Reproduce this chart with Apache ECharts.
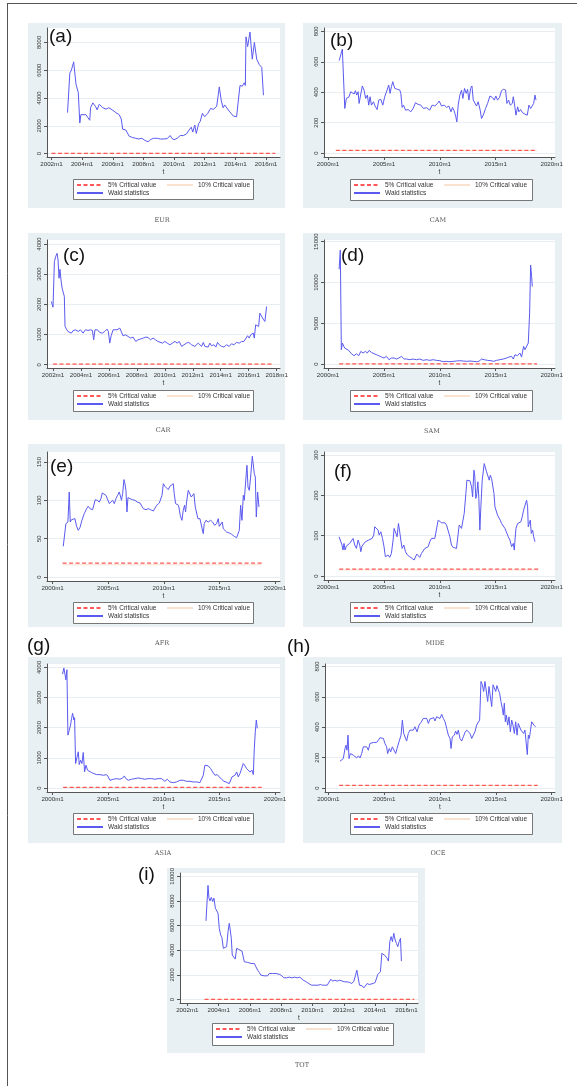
<!DOCTYPE html>
<html><head><meta charset="utf-8">
<script src="https://cdn.jsdelivr.net/npm/echarts@6/dist/echarts.min.js"></script>
<style>html,body{margin:0;padding:0;background:#fff}#c{width:577px;height:1086px}</style>
</head><body><div id="c"></div>
<script>
// ---------------- DATA ----------------
const panelLetters = ['(a)','(b)','(c)','(d)','(e)','(f)','(g)','(h)','(i)'];
const regionNames = ['EUR','CAM','CAR','SAM','AFR','MIDE','ASIA','OCE','TOT'];
const seriesNames = ['5% Critical value','10% Critical value','Wald statistics'];
const xTicks0216 = [2002,2004,2006,2008,2010,2012,2014,2016];
const xTicks0218 = [2002,2004,2006,2008,2010,2012,2014,2016,2018];
const xTicks0020 = [2000,2005,2010,2015,2020];
const yTicksEUR = [0,2000,4000,6000,8000];
const yTicksCAM = [0,200,400,600,800];
const yTicksCAR = [0,1000,2000,3000,4000];
const yTicksSAM = [0,5000,10000,15000];
const yTicksAFR = [0,50,100,150];
const yTicksMIDE = [0,100,200,300];
const yTicksASIA = [0,1000,2000,3000,4000];
const yTicksOCE = [0,200,400,600,800];
const yTicksTOT = [0,2000,4000,6000,8000,10000];
const crit5 = [18,18,18,18,18,17,18,18,18];
const crit10 = [16,16,16,16,16,15,16,16,16];
const critSpan = [[2002.0,2016.6],[2000.7,2018.7],[2002.0,2017.7],[2001.0,2018.7],[2000.9,2018.8],[2001.0,2018.8],[2000.95,2018.8],[2000.96,2018.75],[2003.1,2016.5]];

const EUR = [[2003.05,2950],[2003.2,5800],[2003.3,6000],[2003.45,6600],[2003.6,5000],[2003.75,4400],[2003.85,2200],[2003.92,2800],[2004.25,2800],[2004.37,2600],[2004.5,2400],[2004.55,3300],[2004.7,3650],[2004.87,3400],[2004.98,3150],[2005.12,3550],[2005.35,3300],[2005.57,3200],[2005.74,3300],[2005.96,3150],[2006.2,2950],[2006.42,2800],[2006.55,2500],[2006.65,1750],[2006.85,1700],[2007.07,1250],[2007.3,1150],[2007.5,1100],[2007.7,1050],[2007.9,1100],[2008.1,950],[2008.3,850],[2008.45,1000],[2008.65,1100],[2008.9,1100],[2009.1,1050],[2009.35,1050],[2009.55,1080],[2009.75,1300],[2009.85,1100],[2010.0,1000],[2010.2,1100],[2010.4,1300],[2010.6,1300],[2010.8,1400],[2010.98,1700],[2011.12,1900],[2011.22,1550],[2011.35,2050],[2011.45,1450],[2011.6,2150],[2011.7,2300],[2011.85,2900],[2012.0,2650],[2012.2,2900],[2012.38,3250],[2012.55,3180],[2012.78,3400],[2012.95,4800],[2013.08,3800],[2013.2,3300],[2013.3,3500],[2013.6,3050],[2013.87,2700],[2014.08,2650],[2014.18,3700],[2014.3,4900],[2014.45,4850],[2014.58,5100],[2014.65,4900],[2014.69,8400],[2014.8,7700],[2014.95,8750],[2015.1,6800],[2015.24,8000],[2015.39,6800],[2015.56,6400],[2015.72,6200],[2015.83,4200]];
const CAM = [[2001.0,608],[2001.13,613],[2001.28,683],[2001.4,690],[2001.5,293],[2001.64,360],[2001.85,366],[2002.03,403],[2002.15,397],[2002.33,388],[2002.45,410],[2002.57,381],[2002.69,403],[2002.78,326],[2002.93,388],[2003.07,441],[2003.22,414],[2003.37,359],[2003.52,381],[2003.64,315],[2003.76,370],[2003.88,315],[2004.06,337],[2004.24,304],[2004.39,286],[2004.54,348],[2004.72,353],[2004.9,315],[2005.07,370],[2005.28,414],[2005.43,447],[2005.55,392],[2005.67,436],[2005.79,469],[2005.97,425],[2006.2,419],[2006.42,414],[2006.51,392],[2006.63,300],[2006.75,315],[2006.93,282],[2007.16,286],[2007.4,271],[2007.61,293],[2007.82,331],[2008.06,320],[2008.3,315],[2008.54,293],[2008.81,298],[2009.1,282],[2009.31,315],[2009.55,309],[2009.79,326],[2009.94,342],[2010.15,309],[2010.39,315],[2010.6,300],[2010.81,309],[2011.0,271],[2011.13,300],[2011.28,278],[2011.43,238],[2011.52,205],[2011.64,315],[2011.79,381],[2011.94,414],[2012.06,359],[2012.21,425],[2012.36,392],[2012.48,419],[2012.6,348],[2012.75,425],[2012.87,441],[2012.99,348],[2013.13,337],[2013.28,309],[2013.43,337],[2013.61,282],[2013.73,227],[2013.88,249],[2014.09,293],[2014.27,326],[2014.48,375],[2014.69,366],[2014.87,348],[2015.01,375],[2015.16,348],[2015.34,366],[2015.52,410],[2015.7,419],[2015.88,414],[2016.0,326],[2016.15,348],[2016.3,315],[2016.48,326],[2016.57,370],[2016.69,315],[2016.81,249],[2016.96,304],[2017.07,271],[2017.22,286],[2017.4,265],[2017.61,256],[2017.82,249],[2017.97,315],[2018.12,293],[2018.27,286],[2018.39,326],[2018.51,381],[2018.6,348]];
const CAR = [[2001.88,2094],[2002.0,1906],[2002.1,3416],[2002.19,3580],[2002.29,3690],[2002.36,3470],[2002.43,2865],[2002.5,3160],[2002.57,2810],[2002.65,2534],[2002.74,2500],[2002.81,2260],[2002.86,1270],[2002.96,1180],[2003.07,1100],[2003.19,1135],[2003.31,1047],[2003.43,1124],[2003.6,1157],[2003.8,1100],[2003.96,1157],[2004.15,1047],[2004.32,1157],[2004.5,1135],[2004.67,1157],[2004.82,1135],[2004.91,826],[2005.0,1157],[2005.18,1157],[2005.34,1069],[2005.53,1047],[2005.7,1100],[2005.87,1180],[2005.96,1100],[2006.06,716],[2006.16,960],[2006.3,1157],[2006.42,1100],[2006.58,1157],[2006.78,1212],[2006.9,1267],[2007.01,960],[2007.2,990],[2007.37,937],[2007.56,882],[2007.73,915],[2007.92,771],[2008.09,826],[2008.26,850],[2008.45,882],[2008.64,915],[2008.8,904],[2008.97,826],[2009.16,882],[2009.33,826],[2009.5,771],[2009.64,826],[2009.83,716],[2010.0,771],[2010.17,716],[2010.36,661],[2010.55,716],[2010.72,771],[2010.88,716],[2011.03,771],[2011.2,606],[2011.37,661],[2011.55,716],[2011.72,738],[2011.91,661],[2012.03,694],[2012.15,606],[2012.27,661],[2012.39,716],[2012.51,661],[2012.63,606],[2012.75,738],[2012.87,606],[2012.99,661],[2013.1,584],[2013.22,716],[2013.34,628],[2013.51,661],[2013.65,584],[2013.77,738],[2013.89,661],[2014.06,606],[2014.23,584],[2014.42,661],[2014.6,606],[2014.77,694],[2014.94,661],[2015.13,738],[2015.33,716],[2015.5,771],[2015.66,771],[2015.8,826],[2015.92,960],[2016.04,882],[2016.14,990],[2016.26,937],[2016.33,1047],[2016.4,882],[2016.5,1322],[2016.62,1378],[2016.71,1267],[2016.8,1708],[2016.92,1763],[2017.04,1510],[2017.16,1432],[2017.28,1928]];
const SAM = [[2000.99,11617],[2001.1,13980],[2001.19,1753],[2001.28,2568],[2001.4,2364],[2001.49,1956],[2001.64,1834],[2001.85,1671],[2002.09,1264],[2002.33,1019],[2002.54,1264],[2002.75,1019],[2002.93,1549],[2003.13,1345],[2003.34,1549],[2003.52,1345],[2003.67,1671],[2003.88,1427],[2004.12,1264],[2004.33,1141],[2004.54,1019],[2004.78,856],[2005.01,734],[2005.22,938],[2005.46,530],[2005.67,734],[2005.91,734],[2006.12,611],[2006.33,734],[2006.57,938],[2006.81,611],[2007.04,611],[2007.31,530],[2007.61,611],[2007.91,530],[2008.21,611],[2008.51,448],[2008.81,530],[2009.1,448],[2009.4,530],[2009.7,448],[2010.0,408],[2010.3,285],[2010.6,326],[2010.9,285],[2011.19,326],[2011.49,367],[2011.79,408],[2012.09,367],[2012.39,326],[2012.69,367],[2012.99,326],[2013.28,285],[2013.49,326],[2013.73,611],[2013.97,530],[2014.27,448],[2014.57,408],[2014.8,326],[2015.07,448],[2015.37,530],[2015.67,611],[2015.97,734],[2016.18,856],[2016.42,938],[2016.57,611],[2016.72,1141],[2016.93,1019],[2017.16,1345],[2017.31,856],[2017.49,2160],[2017.61,1753],[2017.76,1834],[2017.91,2568],[2018.03,6236],[2018.12,12146],[2018.21,10720],[2018.27,9497]];
const AFR = [[2000.96,40],[2001.11,42.6],[2001.2,69.6],[2001.29,67.4],[2001.38,71.7],[2001.5,110.9],[2001.59,71.7],[2001.71,74.8],[2001.86,73.9],[2002.01,76.1],[2002.16,66.1],[2002.31,60.9],[2002.46,64.3],[2002.64,73.9],[2002.85,82.6],[2003.06,89.1],[2003.21,92.2],[2003.36,89.1],[2003.6,87.8],[2003.72,87],[2003.84,100.9],[2004.02,100],[2004.2,97.8],[2004.35,102.2],[2004.47,109.6],[2004.62,107.8],[2004.8,106.5],[2004.95,108.7],[2005.1,95.7],[2005.25,96.5],[2005.4,100],[2005.55,95.7],[2005.7,102.2],[2005.85,106.5],[2006.0,110.9],[2006.12,109.6],[2006.2,100],[2006.3,108.7],[2006.42,127],[2006.51,121.7],[2006.6,113],[2006.69,84.8],[2006.78,103.5],[2006.96,102.2],[2007.17,100.9],[2007.4,100],[2007.61,97.8],[2007.86,96.5],[2008.01,95.7],[2008.16,89.1],[2008.4,87.8],[2008.6,89.1],[2008.81,87.8],[2009.06,86.1],[2009.21,84.8],[2009.36,93.5],[2009.6,96.5],[2009.75,95.7],[2009.84,106.5],[2009.96,121.7],[2010.1,118.3],[2010.25,119.6],[2010.4,113.9],[2010.55,118.3],[2010.7,119.6],[2010.85,121.7],[2010.94,108.7],[2011.06,95.7],[2011.21,97.8],[2011.33,93.5],[2011.48,80.4],[2011.63,73.9],[2011.75,87],[2011.87,93.5],[2011.96,84.8],[2012.05,97.8],[2012.2,113],[2012.35,113.9],[2012.47,104.3],[2012.59,103.5],[2012.71,108.7],[2012.83,91.3],[2012.95,89.1],[2013.07,76.1],[2013.25,76.1],[2013.4,73.9],[2013.55,56.5],[2013.64,69.6],[2013.79,73.9],[2014.0,71.7],[2014.21,73.9],[2014.39,71.7],[2014.57,67.4],[2014.75,69.6],[2014.9,76.1],[2014.99,66.1],[2015.14,67.4],[2015.26,71.7],[2015.35,63],[2015.5,60.9],[2015.65,58.7],[2015.89,57.4],[2016.1,55.7],[2016.34,53],[2016.55,51.3],[2016.7,50],[2016.79,60.9],[2016.91,93.5],[2017.03,73.9],[2017.15,106.5],[2017.24,100],[2017.36,123.9],[2017.48,145.7],[2017.57,117.4],[2017.69,113],[2017.81,130.4],[2017.96,157.4],[2018.05,158.7],[2018.14,134.8],[2018.23,130.4],[2018.32,78.3],[2018.44,110.9],[2018.56,91.3]];
const MIDE = [[2000.99,97.5],[2001.13,93.4],[2001.25,76.9],[2001.34,64.5],[2001.43,81],[2001.52,64.5],[2001.64,74.4],[2001.79,72.7],[2001.94,81],[2002.09,85.1],[2002.24,93.4],[2002.39,76.9],[2002.54,68.6],[2002.69,89.3],[2002.84,76.9],[2002.93,60.3],[2003.04,74.4],[2003.19,76.9],[2003.34,85.1],[2003.49,81],[2003.64,89.3],[2003.79,87.6],[2003.94,93.4],[2004.09,101.6],[2004.18,122.3],[2004.33,120.7],[2004.48,114],[2004.57,101.6],[2004.72,109.9],[2004.87,93.4],[2005.01,72.7],[2005.13,47.9],[2005.25,43.8],[2005.37,52.1],[2005.52,46.3],[2005.67,56.2],[2005.82,89.3],[2005.91,118.2],[2006.06,120.7],[2006.18,97.5],[2006.3,130.6],[2006.39,114],[2006.51,89.3],[2006.63,68.6],[2006.78,76.9],[2006.93,60.3],[2007.1,52.1],[2007.31,47.9],[2007.52,43.8],[2007.7,39.7],[2007.82,41.3],[2007.94,54.5],[2008.06,49.6],[2008.21,46.3],[2008.36,56.2],[2008.51,60.3],[2008.66,68.6],[2008.81,64.5],[2008.96,72.7],[2009.1,85.1],[2009.25,93.4],[2009.4,89.3],[2009.55,93.4],[2009.7,90.9],[2009.85,138.8],[2010.0,134.7],[2010.15,132.2],[2010.3,130.6],[2010.45,132.2],[2010.6,126.4],[2010.75,122.3],[2010.9,97.5],[2011.04,76.9],[2011.19,71.1],[2011.34,74.4],[2011.49,68.6],[2011.64,72.7],[2011.73,126.4],[2011.85,128.9],[2011.94,118.2],[2012.06,122.3],[2012.18,155.4],[2012.33,205],[2012.42,238],[2012.54,239.7],[2012.69,236.4],[2012.84,221.5],[2012.93,196.7],[2013.05,262.8],[2013.13,246.3],[2013.22,192.6],[2013.31,205],[2013.4,233.9],[2013.49,192.6],[2013.58,114],[2013.67,171.9],[2013.79,238],[2013.88,239.7],[2013.97,279.3],[2014.09,275.2],[2014.18,258.7],[2014.27,254.5],[2014.33,262.8],[2014.42,238],[2014.51,250.4],[2014.63,242.1],[2014.72,246.3],[2014.84,205],[2014.93,171.9],[2015.04,167.8],[2015.16,151.2],[2015.28,155.4],[2015.4,138.8],[2015.52,130.6],[2015.67,126.4],[2015.82,118.2],[2015.97,120.7],[2016.12,97.5],[2016.27,89.3],[2016.42,72.7],[2016.57,81],[2016.66,64.5],[2016.72,89.3],[2016.81,118.2],[2016.96,130.6],[2017.1,130.6],[2017.25,134.7],[2017.37,147.1],[2017.49,163.6],[2017.61,167.8],[2017.76,188.4],[2017.85,171.9],[2017.91,122.3],[2018.0,130.6],[2018.09,138.8],[2018.18,105.8],[2018.3,114],[2018.39,97.5],[2018.51,85.1]];
const ASIA = [[2000.9,3777],[2001.02,3977],[2001.11,4033],[2001.2,3589],[2001.29,3922],[2001.38,1755],[2001.5,1922],[2001.62,2089],[2001.71,2311],[2001.8,2478],[2001.92,2255],[2001.98,2333],[2002.07,811],[2002.19,755],[2002.31,1200],[2002.4,778],[2002.52,922],[2002.64,811],[2002.76,1178],[2002.88,533],[2003.0,755],[2003.15,589],[2003.3,533],[2003.51,511],[2003.72,478],[2003.96,444],[2004.26,444],[2004.56,422],[2004.86,444],[2005.01,367],[2005.16,256],[2005.46,289],[2005.76,311],[2006.06,289],[2006.3,333],[2006.45,400],[2006.6,311],[2006.81,256],[2007.1,289],[2007.4,311],[2007.7,333],[2008.0,311],[2008.3,289],[2008.6,311],[2008.9,311],[2009.2,289],[2009.5,311],[2009.8,311],[2010.1,222],[2010.31,289],[2010.55,200],[2010.85,178],[2011.15,200],[2011.45,256],[2011.75,256],[2012.05,222],[2012.35,222],[2012.65,200],[2012.95,200],[2013.25,178],[2013.4,222],[2013.55,422],[2013.7,755],[2013.85,700],[2014.0,733],[2014.21,644],[2014.39,533],[2014.6,422],[2014.81,444],[2014.99,367],[2015.2,289],[2015.41,222],[2015.59,200],[2015.71,200],[2015.89,144],[2016.01,200],[2016.13,367],[2016.25,311],[2016.4,422],[2016.55,533],[2016.7,367],[2016.85,478],[2017.0,444],[2017.15,811],[2017.3,733],[2017.45,644],[2017.6,667],[2017.75,533],[2017.84,478],[2017.93,589],[2018.05,444],[2018.14,1311],[2018.23,1866],[2018.32,2255],[2018.41,1978]];
const OCE = [[2001.04,176],[2001.19,167],[2001.34,194],[2001.49,260],[2001.58,282],[2001.67,249],[2001.76,348],[2001.85,194],[2001.97,227],[2002.09,238],[2002.24,216],[2002.39,227],[2002.54,198],[2002.69,212],[2002.84,198],[2002.99,227],[2003.13,271],[2003.28,282],[2003.43,271],[2003.58,249],[2003.73,293],[2003.88,282],[2004.03,300],[2004.18,293],[2004.33,300],[2004.48,315],[2004.63,331],[2004.78,337],[2004.93,326],[2005.07,293],[2005.22,271],[2005.31,227],[2005.46,260],[2005.58,238],[2005.73,271],[2005.88,260],[2006.03,227],[2006.15,260],[2006.33,304],[2006.51,348],[2006.63,447],[2006.75,359],[2006.87,370],[2007.01,309],[2007.16,359],[2007.31,381],[2007.46,370],[2007.61,381],[2007.76,403],[2007.94,370],[2008.12,414],[2008.3,432],[2008.51,458],[2008.66,469],[2008.81,458],[2008.96,425],[2009.1,454],[2009.25,441],[2009.43,463],[2009.55,441],[2009.7,469],[2009.85,480],[2010.0,458],[2010.15,485],[2010.3,458],[2010.45,436],[2010.6,392],[2010.75,348],[2010.9,326],[2010.99,260],[2011.1,337],[2011.28,348],[2011.4,375],[2011.52,353],[2011.64,381],[2011.79,326],[2011.94,309],[2012.09,337],[2012.24,366],[2012.39,381],[2012.54,381],[2012.69,359],[2012.84,326],[2012.99,337],[2013.13,370],[2013.28,414],[2013.43,425],[2013.55,447],[2013.67,701],[2013.79,679],[2013.91,635],[2014.03,701],[2014.15,690],[2014.27,569],[2014.39,668],[2014.51,657],[2014.63,536],[2014.75,679],[2014.87,668],[2014.99,635],[2015.1,674],[2015.22,646],[2015.34,624],[2015.46,569],[2015.58,525],[2015.67,480],[2015.76,558],[2015.85,436],[2015.94,480],[2016.06,414],[2016.18,469],[2016.3,370],[2016.42,447],[2016.54,414],[2016.66,359],[2016.78,436],[2016.9,348],[2017.01,425],[2017.13,414],[2017.25,381],[2017.37,392],[2017.49,359],[2017.61,381],[2017.73,370],[2017.82,220],[2017.91,348],[2018.0,326],[2018.09,370],[2018.21,436],[2018.33,425],[2018.45,410],[2018.57,403]];
const TOT = [[2003.19,6385],[2003.23,6466],[2003.32,9265],[2003.38,8233],[2003.45,8015],[2003.53,8287],[2003.62,7961],[2003.7,8233],[2003.79,7417],[2003.87,7553],[2003.96,7010],[2004.04,5787],[2004.13,5244],[2004.21,5026],[2004.3,4157],[2004.4,4103],[2004.51,4293],[2004.6,5516],[2004.68,6195],[2004.74,6059],[2004.81,4972],[2004.87,3614],[2004.98,3478],[2005.06,3288],[2005.15,4157],[2005.26,4021],[2005.36,4021],[2005.49,3940],[2005.57,4021],[2005.64,3070],[2005.74,3125],[2005.85,3016],[2005.96,3125],[2006.06,2934],[2006.17,3070],[2006.28,2934],[2006.38,2663],[2006.49,2391],[2006.6,2201],[2006.7,1983],[2006.81,1983],[2006.91,1929],[2007.02,2038],[2007.13,1929],[2007.23,2119],[2007.34,2038],[2007.45,2119],[2007.55,1983],[2007.66,2119],[2007.77,2119],[2007.91,2038],[2008.04,1929],[2008.17,1766],[2008.34,1766],[2008.51,1820],[2008.68,1766],[2008.85,1820],[2009.02,1766],[2009.19,1820],[2009.3,1766],[2009.4,1576],[2009.53,1494],[2009.66,1386],[2009.79,1277],[2009.94,1168],[2010.09,1168],[2010.21,1223],[2010.36,1168],[2010.51,1223],[2010.64,1168],[2010.79,1168],[2010.94,1168],[2011.06,1223],[2011.17,1657],[2011.28,1494],[2011.43,1576],[2011.57,1494],[2011.74,1576],[2011.91,1494],[2012.06,1440],[2012.21,1440],[2012.38,1386],[2012.51,1304],[2012.64,1494],[2012.74,1929],[2012.83,2391],[2012.91,2255],[2013.0,1168],[2013.09,1032],[2013.17,1114],[2013.28,951],[2013.36,1032],[2013.49,1304],[2013.62,1223],[2013.74,1304],[2013.87,1304],[2014.0,1386],[2014.09,1494],[2014.17,2038],[2014.26,2038],[2014.34,2255],[2014.43,3750],[2014.51,3885],[2014.6,3614],[2014.68,3478],[2014.77,3342],[2014.85,3125],[2014.94,4700],[2015.02,5108],[2015.11,4700],[2015.19,5380],[2015.28,4836],[2015.36,4565],[2015.45,4293],[2015.53,4700],[2015.62,4972],[2015.68,3125]];

const panelData = [EUR, CAM, CAR, SAM, AFR, MIDE, ASIA, OCE, TOT];
const panelXTicks = [xTicks0216, xTicks0020, xTicks0218, xTicks0020, xTicks0020, xTicks0020, xTicks0020, xTicks0020, xTicks0216];
const panelYTicks = [yTicksEUR, yTicksCAM, yTicksCAR, yTicksSAM, yTicksAFR, yTicksMIDE, yTicksASIA, yTicksOCE, yTicksTOT];

// ---------------- LAYOUT ----------------
const layout = [
  {grid:[47,28,233,129],  x:[2001.71,2016.91], y:[-246,9039],  bg:[28,23,257,185],  leg:[73,179,180,20],  lab:[49,27],  ttl:[162,220]},
  {grid:[324,28,231,129], x:[1999.64,2020.3],  y:[-26,822],    bg:[303,23,259,185], leg:[350,179,182,21], lab:[330,31], ttl:[438,220]},
  {grid:[47,240,233,128], x:[2001.57,2018.24], y:[-109,4132],  bg:[28,233,257,187], leg:[73,390,180,21],  lab:[63,246], ttl:[163,430]},
  {grid:[324,240,231,128],x:[1999.64,2020.3],  y:[-489,15209], bg:[303,233,259,187],leg:[350,390,182,21], lab:[341,246],ttl:[432,431]},
  {grid:[47,452,233,129], x:[1999.5,2020.45],  y:[-5.2,163],   bg:[28,444,257,183], leg:[73,602,180,21],  lab:[50,457], ttl:[162,643]},
  {grid:[324,452,231,128],x:[1999.64,2020.3],  y:[-9.9,308],   bg:[303,444,259,183],leg:[350,602,182,20], lab:[334,462],ttl:[435,643]},
  {grid:[47,664,233,128], x:[1999.5,2020.45],  y:[-133,4113],  bg:[28,657,257,186], leg:[73,813,180,21],  lab:[27,636], ttl:[163,853]},
  {grid:[325,664,230,128],x:[1999.7,2020.3],   y:[-26,816],    bg:[303,657,259,186],leg:[350,813,182,21], lab:[287,637],ttl:[438,853]},
  {grid:[180,873,238,130],x:[2001.53,2016.74], y:[-277,10272], bg:[167,868,258,185],leg:[212,1023,181,22],lab:[138,865],ttl:[302,1065]}
];

const FONT = '"Liberation Sans", Arial, sans-serif';
const grids = [], xAxes = [], yAxes = [], series = [], legends = [], graphics = [];

graphics.push({type:'line', shape:{x1:7,y1:3.5,x2:577,y2:3.5}, style:{stroke:'#555',lineWidth:1}, z:10});
graphics.push({type:'line', shape:{x1:7.5,y1:3,x2:7.5,y2:1086}, style:{stroke:'#555',lineWidth:1}, z:10});

layout.forEach((L, i) => {
  const [gl, gt, gw, gh] = L.grid;
  grids.push({left:gl, top:gt, width:gw, height:gh, show:true, backgroundColor:'#ffffff', borderWidth:0, containLabel:false});
  xAxes.push({
    type:'value', gridIndex:i, min:L.x[0], max:L.x[1],
    name:'t', nameLocation:'middle', nameGap:12,
    nameTextStyle:{fontSize:6.5, color:'#333', fontFamily:FONT},
    axisLine:{show:true, onZero:false, lineStyle:{color:'#555', width:1}},
    axisTick:{show:true, length:3, customValues:panelXTicks[i], lineStyle:{color:'#555'}},
    axisLabel:{customValues:panelXTicks[i], fontSize:6.2, color:'#333', margin:4, fontFamily:FONT,
               formatter:v => Math.round(v) + 'm1'},
    splitLine:{show:false}
  });
  yAxes.push({
    type:'value', gridIndex:i, min:L.y[0], max:L.y[1],
    axisLine:{show:true, onZero:false, lineStyle:{color:'#555', width:1}},
    axisTick:{show:true, length:3, customValues:panelYTicks[i], lineStyle:{color:'#555'}},
    axisLabel:{customValues:panelYTicks[i], fontSize:6, color:'#333', rotate:90, margin:5, fontFamily:FONT,
               formatter:v => String(v)},
    splitLine:{show:true, lineStyle:{color:'#e8eef1', width:1}}
  });
  const cs = critSpan[i];
  series.push({type:'line', name:seriesNames[1], xAxisIndex:i, yAxisIndex:i, symbol:'none', silent:true, z:2,
               data:[[cs[0], crit10[i]], [cs[1], crit10[i]]], lineStyle:{color:'#f9e2cf', width:1, type:'solid'}});
  series.push({type:'line', name:seriesNames[0], xAxisIndex:i, yAxisIndex:i, symbol:'none', silent:true, z:3,
               data:[[cs[0], crit5[i]], [cs[1], crit5[i]]], lineStyle:{color:'#ff5858', width:1.2, type:[4,2.5]}});
  series.push({type:'line', name:seriesNames[2], xAxisIndex:i, yAxisIndex:i, symbol:'none', silent:true, z:4,
               data:panelData[i], lineStyle:{color:'#5a5af0', width:1}});

  const [bx, by, bw, bh] = L.leg;
  const legCommon = {orient:'vertical', padding:0, itemGap:0, itemWidth:26, itemHeight:8, selectedMode:false,
                     itemStyle:{color:'rgba(0,0,0,0)', borderWidth:0, opacity:0},
                     textStyle:{fontSize:6.5, color:'#333', fontFamily:FONT, lineHeight:8}};
  legends.push(Object.assign({}, legCommon, {left:bx+3, top:by+2, data:[seriesNames[0], seriesNames[2]]}));
  legends.push(Object.assign({}, legCommon, {left:bx+93, top:by+2, data:[seriesNames[1]]}));

  const [rx, ry, rw, rh] = L.bg;
  graphics.push({type:'rect', shape:{x:rx, y:ry, width:rw, height:rh}, style:{fill:'#e8f0f3'}, z:-5});
  graphics.push({type:'rect', shape:{x:bx+0.5, y:by+0.5, width:bw, height:bh}, style:{fill:'#ffffff', stroke:'#555', lineWidth:0.8}, z:3});
  graphics.push({type:'text', x:L.lab[0], y:L.lab[1], z:10,
                 style:{text:panelLetters[i], font:'19px ' + FONT, fill:'#111', textVerticalAlign:'top'}});
  graphics.push({type:'text', x:L.ttl[0], y:L.ttl[1], z:10,
                 style:{text:regionNames[i], font:'6.5px "DejaVu Serif", serif', fill:'#555', textAlign:'center', textVerticalAlign:'middle'}});
});

const chart = echarts.init(document.getElementById('c'), null, {renderer:'canvas'});
chart.setOption({
  animation:false,
  backgroundColor:'#ffffff',
  grid:grids, xAxis:xAxes, yAxis:yAxes, series:series, legend:legends,
  graphic:{elements:graphics}
});
</script></body></html>
